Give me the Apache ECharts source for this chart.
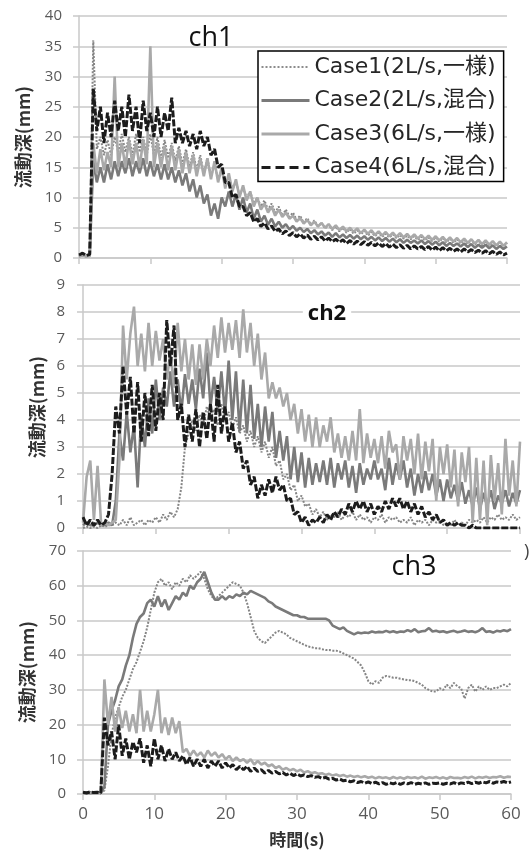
<!DOCTYPE html>
<html>
<head>
<meta charset="utf-8">
<script src="https://cdn.jsdelivr.net/npm/echarts@6/dist/echarts.min.js"></script>
<style>
html, body { margin: 0; padding: 0; background: #fff; }
#main { width: 532px; height: 852px; }
</style>
</head>
<body>
<div id="main"></div>
<script>
// 時間軸 0〜60 s, 0.5 s 刻み
var time = [];
for (var i = 0; i <= 120; i++) time.push(i / 2);

var caseNames = ["Case1(2L/s,一様)", "Case2(2L/s,混合)", "Case3(6L/s,一様)", "Case4(6L/s,混合)"];
var panelTitles = ["ch1", "ch2", "ch3"];
var yMax = [40, 9, 70];
var yStep = [5, 1, 10];

// ch1
var ch1Case1 = [
  0.5,0.5,0.4,0.5,36,18,20,17,19.5,17,
  20,17.5,20.5,17.5,20,17,20.5,17.5,20,17,
  20.5,17,20,16.5,19.5,16.5,19,16,18.5,15.5,
  18,15,17.5,14.5,17,14,16.5,13.5,15.5,13,
  14.5,12,13.5,11.5,12.5,10.5,11.5,10,11,9,
  10,8.5,9.5,8,9,7.5,8.5,7,8,6.8,
  7.5,6.3,7,5.8,6.6,5.5,6.2,5.2,5.8,4.9,
  5.5,4.6,5.2,4.4,5,4.2,4.8,4,4.6,3.9,
  4.5,3.7,4.3,3.6,4.2,3.5,4,3.4,3.9,3.3,
  3.8,3.2,3.7,3.1,3.6,3,3.5,2.9,3.4,2.8,
  3.4,2.7,3.3,2.6,3.2,2.5,3.1,2.4,3,2.3,
  3,2.2,2.9,2.1,2.8,2,2.7,2,2.6,1.9,
  2.5
];
var ch1Case2 = [
  0.3,0.5,0.3,0.4,16,12.5,15,12.5,15.5,13,
  16,13.5,16,14,16.5,13.5,16,14,16.5,13.5,
  16,13.5,15.5,13,15.5,13,15,12.5,14.5,12,
  14,11,13,10,12,9,10.5,7,9,6.5,
  10,8.5,11,8.5,10.5,8,10,7.5,9,6.5,
  8,6,7,5.5,6.5,5.2,6,5,5.6,4.7,
  5.3,4.5,5,4.3,4.8,4.1,4.6,3.9,4.4,3.7,
  4.2,3.5,4.1,3.4,3.9,3.3,3.8,3.2,3.7,3.1,
  3.6,3,3.5,2.9,3.4,2.8,3.3,2.7,3.2,2.6,
  3.1,2.5,3,2.5,2.9,2.4,2.9,2.3,2.8,2.2,
  2.7,2.1,2.6,2,2.5,2,2.4,1.9,2.4,1.8,
  2.3,1.7,2.2,1.7,2.2,1.6,2.1,1.5,2,1.5,
  1.9
];
var ch1Case3 = [
  0.3,0.4,0.3,0.3,19,14,18,14.5,17.5,15,
  30,15,19,15,19.5,15.5,19,15,19.5,15.5,
  35,15,19,15,18.5,14.5,18.5,14.5,18,14,
  17.5,14,17,13.5,16.5,13.5,16.5,13,16,12.5,
  15,11.5,14,11,13,10,12,9.5,11,8.5,
  10,8,9,7.5,8.5,7,8,6.8,7.5,6.5,
  7,6,6.6,5.7,6.3,5.4,6,5.2,5.8,5,
  5.6,4.8,5.4,4.6,5.2,4.4,5,4.3,4.9,4.1,
  4.7,4,4.6,3.8,4.4,3.7,4.3,3.6,4.2,3.5,
  4.1,3.4,4,3.3,3.9,3.2,3.8,3.1,3.7,3,
  3.6,2.9,3.5,2.8,3.4,2.7,3.3,2.6,3.2,2.5,
  3.1,2.4,3,2.3,2.9,2.2,2.8,2.1,2.7,2,
  2.6
];
var ch1Case4 = [
  0.5,0.8,0.4,0.6,28,21,25,19,24,20,
  26,21,25,20,27,21,25,19,26,21,
  24,20,25,20,24,21,26.5,19,21.5,19,
  21,18.5,20.5,18,21,18.5,20,17,18,15,
  15.5,12.5,12.5,10,10.5,8.5,8.5,7,7.5,6,
  6.5,5.2,5.8,4.8,5.3,4.4,4.8,4,4.5,3.7,
  4.2,3.5,4,3.3,3.8,3.1,3.6,3,3.5,2.8,
  3.3,2.7,3.1,2.6,3,2.4,2.9,2.3,2.8,2.2,
  2.7,2.1,2.6,2,2.5,1.9,2.4,1.8,2.3,1.7,
  2.2,1.6,2.1,1.5,2,1.5,1.9,1.4,1.9,1.3,
  1.8,1.2,1.7,1.2,1.6,1.1,1.5,1,1.5,1,
  1.4,0.9,1.3,0.8,1.2,0.7,1.1,0.6,1,0.5,
  0.8
];

// ch2
var ch2Case1 = [
  0,0.05,0,0.05,0,0.1,0.05,0.1,0.1,0.2,
  0.1,0.3,0.1,0.4,0.1,0.2,0.3,0.1,0.3,0.2,
  0.4,0.2,0.5,0.3,0.6,0.4,0.7,1.5,3,3.5,
  4,3.6,4.2,3.8,4.5,4,4.4,3.8,4.6,4,
  4.3,3.7,4.1,3.5,3.8,3.2,3.6,3,3.4,2.8,
  3.2,2.6,3,2.3,2.5,1.8,2,1.4,1.6,1,
  1.2,0.8,0.9,0.5,0.7,0.4,0.6,0.3,0.5,0.4,
  0.6,0.3,0.5,0.4,0.6,0.3,0.5,0.3,0.4,0.2,
  0.4,0.3,0.5,0.2,0.4,0.3,0.4,0.2,0.3,0.2,
  0.4,0.1,0.3,0.2,0.3,0.1,0.3,0.2,0.3,0.1,
  0.2,0.1,0.3,0.1,0.2,0.1,0.3,0.2,0.3,0.2,
  0.4,0.2,0.4,0.3,0.5,0.3,0.4,0.3,0.5,0.3,
  0.4
];
var ch2Case2 = [
  0.1,0.2,0.1,0.1,0.2,0.1,0.1,0.2,0.1,1,
  3.5,2.5,4.3,2.8,3.8,1.5,4.2,3,4.8,3.5,
  5.5,4,5.2,4.5,5.8,4.5,5.5,4.3,5.7,4.6,
  5.5,4.4,5.9,4.8,6.5,4.5,5.6,4.3,5.8,4.2,
  6.2,4,5.8,3.6,5.5,3.5,5.3,3.3,4.6,3,
  4.5,3.2,4.3,2.6,3.6,2.5,3.4,1.8,3,1.7,
  2.8,1.5,2.6,1.6,2.4,1.7,2.5,1.6,2.6,1.5,
  2.4,1.8,2.5,1.5,2.3,1.3,2.4,1.6,2.2,1.8,
  2.5,1.8,2.2,1.4,2.6,1.6,2.4,1.8,2.5,1.5,
  2.2,1.2,2,1.3,2.1,1.4,2,1.2,1.8,1,
  1.8,1.1,1.6,1,1.7,0.9,1.4,0.8,1.5,0.7,
  1.3,0.8,1.4,0.7,1.2,0.9,1.4,0.8,1.3,0.9,
  1.4
];
var ch2Case3 = [
  0.2,1.9,2.5,0.3,2.3,0.1,0.2,0.1,0.2,0.3,
  2.5,7.5,5.5,7.2,8.2,6,7.2,5.8,7.6,6,
  7.3,6.2,7,5.5,6.5,5.2,7.6,5.8,7,5.5,
  6.8,5.3,6.8,5.5,7,6,7.5,6.3,7.8,6.5,
  7.6,6.6,7.7,6.3,8.1,6.5,7.6,6,7.2,5.5,
  6.5,4.8,5.4,4.8,5.2,4.5,5,4,4.6,3.5,
  4.4,3.2,4.2,3,4.1,3,3.8,3.2,4.1,2.8,
  3.5,2.6,3.4,2.5,3.6,2.5,4.4,2.4,3.5,2.6,
  3.3,2.4,3.4,2.2,3.6,2.8,3.1,1.8,3.4,2.5,
  3.3,2,3.5,1.8,3.2,2.1,3.3,1,3,2,
  3.1,1.5,2.9,0.8,2.8,1.7,3,0.2,2.6,0.3,
  2.5,0.1,2.7,1,2.4,0.5,3.3,1.2,2.5,0.8,
  3.2
];
var ch2Case4 = [
  0.4,0.1,0.3,0.1,0.3,0.1,0.2,0.5,2,4.5,
  3.5,6,4.2,5.6,3.5,5.4,3.2,5,3.4,5.3,
  3.6,5,4,7.7,6,7.5,4,4.6,3,4.2,
  3.2,4.4,3,4.3,3.3,4.6,3.2,5.3,3.5,4.5,
  3.2,3.9,2.8,3.2,2.2,2.5,1.6,1.9,1.1,1.6,
  1.2,1.8,1.3,1.9,1.4,1.6,1,1.1,0.5,0.6,
  0.2,0.4,0.1,0.3,0.2,0.4,0.2,0.5,0.3,0.6,
  0.4,0.7,0.5,0.9,0.6,1,0.7,1,0.6,0.9,
  0.5,0.8,0.6,1,0.7,1.1,0.8,1.1,0.7,1,
  0.6,0.9,0.5,0.8,0.4,0.6,0.3,0.5,0.2,0.3,
  0.1,0.2,0.1,0.2,0.1,0.1,0,0.1,0,0,
  0,0,0,0,0,0,0,0,0,0,
  0
];

// ch3
var ch3Case1 = [
  0.5,0.3,0.6,0.4,0.5,0.3,1,8,17,22,
  25,28,30,33,36,38,41,44,48,53,
  58,61,62,60,61,59,61,60,62,61,
  63,62,63,64,62,59,57,56,57,58,
  59,60,61,60.5,60,58,55,51,47,45,
  44,43.5,44.5,45.5,46.5,47,46.5,46,45,44.5,
  44,43.5,43,42.5,42.3,42,42,41.7,41.5,41.5,
  41.3,41.3,41,40.5,40,39.5,39,38,37,35,
  32.5,31.5,32.5,32,33.5,34,33.8,33.5,33.5,33.2,
  33,32.8,32.8,32.5,32,31.5,30.5,30,29.5,29.5,
  30.5,30,31.5,30.5,32,31,30.5,27.5,30.5,31.5,
  29.5,31,30,31,30,30.5,30.5,31,31.5,31,
  32
];
var ch3Case2 = [
  0.3,0.5,0.2,0.4,0.3,0.5,2,20,24,27,
  31,33,37,40,45,49,51,52,55,56,
  54,57,54,56,53,55,57,56,58,57,
  60,59,61,62,64,61,58,56,56,57,
  56,57,56.5,57.5,57,58,57.5,58.5,58,57.5,
  57,56.5,55.5,55,54,53.5,53,52.5,52,51.5,
  51.5,51,51,50.5,50.5,50.5,50.5,50.5,50.5,50,
  48.5,48,47.5,48,47,46.5,46,46.5,46.3,46.5,
  46.4,46.8,46.5,46.7,46.6,47,46.6,46.9,46.5,46.8,
  46.7,47.2,46.8,47.5,46.6,46.9,47,47.8,46.8,47,
  46.7,46.9,46.5,46.8,47,46.6,46.8,47.1,46.7,46.9,
  46.6,47,47.8,46.7,46.9,46.5,47,46.8,47.2,46.9,
  47.5
];
var ch3Case3 = [
  0.2,0.3,0.2,0.3,0.2,0.3,33,20,28,18,
  25,19,24,18,23,17.5,30,18,24,18,
  23,30,17.5,22,17,22,17.5,21,12,13,
  11,12.5,11,12,10.5,12.5,11,12,10.5,11.5,
  10,11,9.5,10.5,9.5,10,9,10,8.5,9.5,
  8.5,9,8,8.5,7.5,8,7,7.5,6.8,7.2,
  6.5,7,6.2,6.6,6,6.3,5.8,6,5.5,5.8,
  5.3,5.6,5.2,5.5,5,5.3,4.9,5.2,4.8,5.1,
  4.7,5,4.5,4.9,4.6,4.8,4.4,4.9,4.5,4.8,
  4.4,4.9,4.6,4.8,4.5,5,4.4,4.8,4.6,4.9,
  4.5,4.8,4.4,4.9,4.6,4.7,4.5,4.9,4.6,5,
  4.5,4.9,4.7,5,4.6,4.9,4.8,5.1,4.7,5,
  4.9
];
var ch3Case4 = [
  0.5,0.3,0.6,0.4,0.5,0.3,22,14,18,10,
  20,11,16,10,15,12,16,9,14,8,
  16,10,14,9.5,13,10,12,9.5,11,8.5,
  10.5,8,10,8,10,7.5,9.5,8,9.5,7.5,
  9,7.5,8.5,7,8,7,8,6.5,7.5,6.5,
  7,6,6.8,6,6.5,5.8,6.2,5.5,6,5.3,
  5.8,5.2,5.5,5,5.3,4.8,5,4.5,4.8,4.3,
  4.5,4,4.3,3.8,4,3.5,3.8,3.3,3.6,3.1,
  3.5,3,3.4,2.9,3.3,2.8,3.2,2.9,3.3,2.8,
  3.2,2.9,3.3,2.8,3.1,2.9,3.2,2.8,3.1,3,
  3.2,2.8,3.1,2.9,3.3,2.8,3.2,3,3.4,3,
  3.4,3.1,3.5,3.2,3.6,3.1,3.5,3.3,3.6,3.2,
  3.5
];

var panels = [
  [ch1Case1, ch1Case2, ch1Case3, ch1Case4],
  [ch2Case1, ch2Case2, ch2Case3, ch2Case4],
  [ch3Case1, ch3Case2, ch3Case3, ch3Case4]
];

var lineStyles = [
  { color: "#858585", width: 2, type: [2, 1.5] },
  { color: "#7a7a7a", width: 2.6 },
  { color: "#a9a9a9", width: 2.6 },
  { color: "#1c1c1c", width: 3, type: [7, 2] }
];
var legendLines = [
  { color: "#8c8c8c", width: 2, type: [2, 2] },
  { color: "#7a7a7a", width: 3, type: "solid" },
  { color: "#a9a9a9", width: 3, type: "solid" },
  { color: "#1c1c1c", width: 3, type: [9, 5] }
];

var grids = [
  { left: 79, top: 16, width: 428, height: 242 },
  { left: 83, top: 285, width: 437, height: 243 },
  { left: 83, top: 551, width: 428, height: 243 }
];

var gridColor = "#c9c9c9";
var numFont = "Open Sans";
var jpFont = "Noto Sans CJK JP";

function pairs(vals) {
  return time.map(function (t, i) { return [t, vals[i]]; });
}

var xAxes = [], yAxes = [], series = [];
grids.forEach(function (g, p) {
  xAxes.push({
    type: "value", gridIndex: p, min: 0, max: 60, interval: 10,
    axisLine: { lineStyle: { color: gridColor, width: 1.5 } },
    axisTick: { show: true, length: 6, lineStyle: { color: gridColor, width: 1.5 } },
    splitLine: { show: false },
    axisLabel: { show: p === 2, fontSize: 17, color: "#595959", fontFamily: numFont, margin: 12 }
  });
  yAxes.push({
    type: "value", gridIndex: p, min: 0, max: yMax[p], interval: yStep[p],
    axisLine: { show: true, lineStyle: { color: gridColor, width: 1.5 } },
    axisTick: { show: true, length: 6, lineStyle: { color: gridColor, width: 1.5 } },
    splitLine: { lineStyle: { color: gridColor, width: 1.5 } },
    axisLabel: { fontSize: 15, color: "#595959", fontFamily: numFont, margin: p === 1 ? 18 : 17 }
  });
  panels[p].forEach(function (vals, k) {
    series.push({
      name: caseNames[k], type: "line", xAxisIndex: p, yAxisIndex: p,
      data: pairs(vals), symbol: "none", z: 2 + k,
      lineStyle: lineStyles[k]
    });
  });
});

var chart = echarts.init(document.getElementById("main"));
chart.setOption({
  backgroundColor: "#fff",
  animation: false,
  grid: grids,
  xAxis: xAxes,
  yAxis: yAxes,
  legend: {
    orient: "vertical", left: 258, top: 51,
    padding: [5, 8, 3, 2],
    itemWidth: 48, itemHeight: 22, itemGap: 11.5,
    borderColor: "#000", borderWidth: 1.5,
    backgroundColor: "#fff",
    selectedMode: false,
    itemStyle: { opacity: 0 },
    textStyle: { fontSize: 22, lineHeight: 22, color: "#262626", fontFamily: "DejaVu Sans, Noto Sans CJK JP" },
    data: caseNames.map(function (n, k) { return { name: n, lineStyle: legendLines[k] }; })
  },
  graphic: [
    { type: "text", x: 211, y: 38, z: 10, style: { text: panelTitles[0], font: '27px "Open Sans"', fill: "#111", align: "center", verticalAlign: "middle" } },
    { type: "text", x: 327, y: 314, z: 10, style: { text: panelTitles[1], font: 'bold 22px "Open Sans"', fill: "#111", align: "center", verticalAlign: "middle", backgroundColor: "#fff", padding: [0, 5] } },
    { type: "text", x: 414, y: 567, z: 10, style: { text: panelTitles[2], font: '27px "Open Sans"', fill: "#111", align: "center", verticalAlign: "middle" } },
    { type: "text", x: 23, y: 137, rotation: Math.PI / 2, style: { text: "流動深(mm)", font: 'bold 18px "Noto Sans CJK JP"', fill: "#333", align: "center", verticalAlign: "middle" } },
    { type: "text", x: 37, y: 407, rotation: Math.PI / 2, style: { text: "流動深(mm)", font: 'bold 18px "Noto Sans CJK JP"', fill: "#333", align: "center", verticalAlign: "middle" } },
    { type: "text", x: 27, y: 672, rotation: Math.PI / 2, style: { text: "流動深(mm)", font: 'bold 18px "Noto Sans CJK JP"', fill: "#333", align: "center", verticalAlign: "middle" } },
    { type: "text", x: 297, y: 840, style: { text: "時間(s)", font: 'bold 17px "Noto Sans CJK JP"', fill: "#333", align: "center", verticalAlign: "middle" } },
    { type: "text", x: 524, y: 552, style: { text: ")", font: '18px "Open Sans"', fill: "#444", align: "left", verticalAlign: "middle" } }
  ],
  series: series
});
</script>
</body>
</html>
